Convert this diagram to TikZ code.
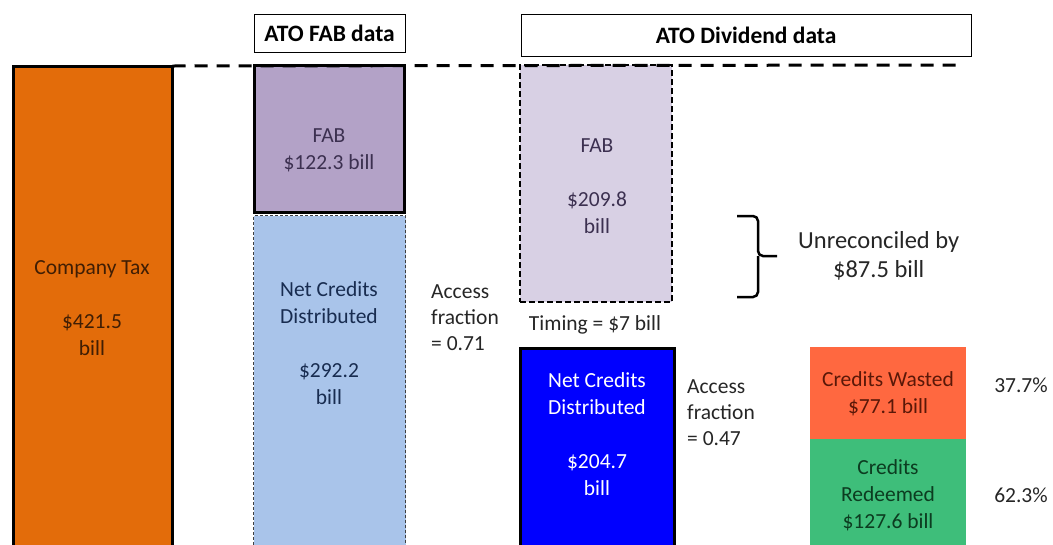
\documentclass[tikz,border=0pt]{standalone}
\usepackage{fontspec}
\setmainfont{Carlito}
\usetikzlibrary{positioning}

\definecolor{taxorange}{RGB}{227,108,10}
\definecolor{fabpurple}{RGB}{179,162,199}
\definecolor{fablilac}{RGB}{216,208,228}
\definecolor{netlight}{RGB}{169,196,234}
\definecolor{netblue}{RGB}{0,0,255}
\definecolor{wastedred}{RGB}{255,104,64}
\definecolor{redeemgreen}{RGB}{62,190,122}
\definecolor{taxtxt}{RGB}{64,30,4}
\definecolor{fabtxt}{RGB}{60,48,80}
\definecolor{nettxt}{RGB}{24,44,80}
\definecolor{wastedtxt}{RGB}{90,24,8}
\definecolor{redeemtxt}{RGB}{12,60,32}
\definecolor{lbltxt}{RGB}{38,38,38}

\tikzset{
  bar/.style={rectangle, anchor=north west, inner sep=0pt, outer sep=0pt},
  heavybar/.style={bar, draw=black, line width=3pt},
  titlebox/.style={rectangle, draw=black, line width=1.2pt, inner sep=0pt,
    anchor=north west, font=\fontsize{23.5}{28}\bfseries\selectfont},
  boxtext/.style={align=center, inner sep=0pt, font=\fontsize{21.5}{27}\selectfont},
  sidetext/.style={align=left, anchor=west, inner sep=0pt, text=lbltxt,
    font=\fontsize{21.5}{26}\selectfont},
  topline/.style={line width=3pt, dash pattern=on 13pt off 9pt},
}

\begin{document}
\begin{tikzpicture}[x=1pt,y=-1pt]
  \useasboundingbox (0,0) rectangle (1053,544);
  \clip (0,0) rectangle (1053,544);

  % bars
  \node[heavybar, fill=taxorange, minimum width=159, minimum height=494] (tax) at (13.5,66) {};
  \node[heavybar, fill=fabpurple, minimum width=150, minimum height=147] (fabA) at (254.5,65.5) {};
  \node[bar, fill=netlight, draw=black!75, line width=0.8pt, dash pattern=on 3pt off 2pt,
    minimum width=152, minimum height=345] (netA) at (253.5,215.5) {};
  \node[bar, fill=fablilac, draw=black, line width=2pt, dash pattern=on 6pt off 3pt,
    minimum width=152, minimum height=237] (fabB) at (520,65) {};
  \node[heavybar, fill=netblue, minimum width=154, minimum height=212] (netB) at (520.5,348.5) {};
  \node[bar, fill=wastedred, minimum width=156, minimum height=92] (wasted) at (810,347) {};
  \node[bar, fill=redeemgreen, minimum width=156, minimum height=121] (redeem) at (810,439) {};

  % titles
  \node[titlebox, minimum width=151, minimum height=38] (fabtitle) at (253.5,13.5) {ATO FAB data};
  \node[titlebox, minimum width=450, minimum height=42] (divtitle) at (520.5,13.5) {ATO Dividend data};

  % top line
  \coordinate (topend) at (964,65);
  \draw[topline] (tax.north east) -- (topend);

  % texts in bars
  \node[boxtext, text=taxtxt] (taxtext) at (92,308.5) {Company Tax\\[27pt]\$421.5\\bill};
  \node[boxtext, text=fabtxt] (fabAtext) at (329,150) {FAB\\\$122.3 bill};
  \node[boxtext, text=nettxt] (netAtext) at (329,343.5) {Net Credits\\Distributed\\[27pt]\$292.2\\bill};
  \node[boxtext, text=fabtxt] (fabBtext) at (597,186) {FAB\\[27pt]\$209.8\\bill};
  \node[boxtext, text=white] (netBtext) at (597,434.5) {Net Credits\\Distributed\\[27pt]\$204.7\\bill};
  \node[boxtext, text=wastedtxt] (wastedtext) at (888,394) {Credits Wasted\\\$77.1 bill};
  \node[boxtext, text=redeemtxt] (redeemtext) at (888,495) {Credits\\Redeemed\\\$127.6 bill};

  % side labels
  \node[sidetext] (accessA) at (431,318) {Access\\fraction\\= 0.71};
  \node[sidetext] (accessB) at (687,412.5) {Access\\fraction\\= 0.47};
  \node[boxtext, text=lbltxt] (timing) at (595,325) {Timing = \$7 bill};
  \node[boxtext, text=lbltxt] (pctwasted) at (1021,385) {37.7\%};
  \node[boxtext, text=lbltxt] (pctredeem) at (1021,495) {62.3\%};

  % brace
  \coordinate (bracetip) at (777,256);
  \draw[line width=2.5pt, rounded corners=5pt] (737,216) -| (758,256) -- (bracetip);
  \draw[line width=2.5pt, rounded corners=5pt] (737,297) -| (758,256);
  \node[boxtext, text=lbltxt, font=\fontsize{24.5}{29}\selectfont, right=21pt of bracetip] (unrec)
    {Unreconciled by\\\$87.5 bill};
\end{tikzpicture}
\end{document}
